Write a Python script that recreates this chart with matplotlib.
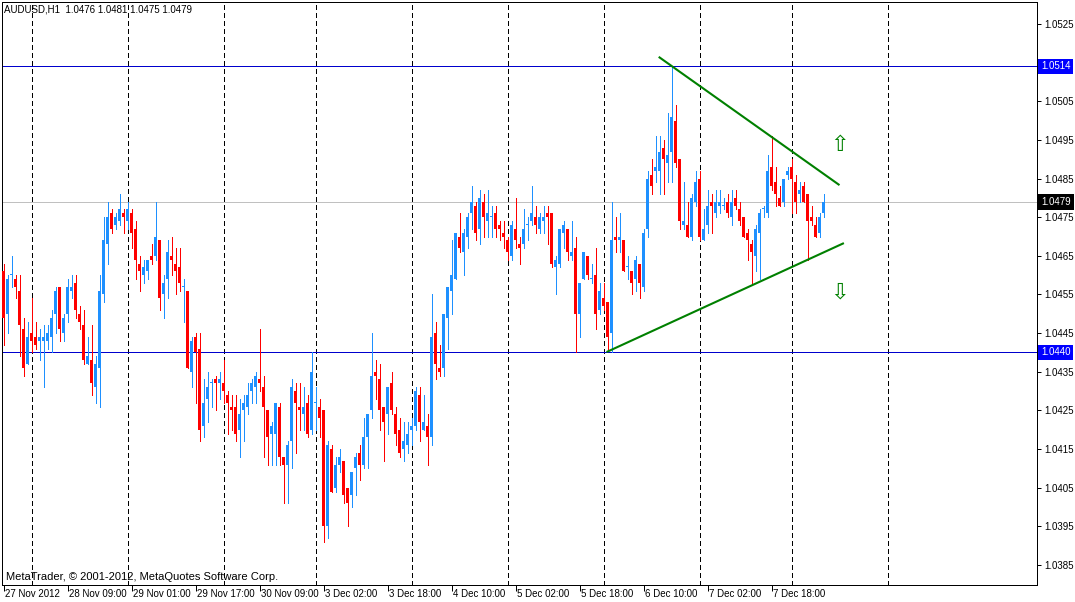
import matplotlib
matplotlib.use('Agg')
import matplotlib.pyplot as plt
import matplotlib.transforms as mtransforms
import numpy as np

plt.rcParams['font.family'] = ['Liberation Sans', 'DejaVu Sans']

# AUDUSD H1 bars, 27 Nov 2012 17:00 onwards
opens = [1.0461, 1.0450, 1.0460, 1.0459, 1.0456, 1.0446, 1.0437, 1.0445, 1.0444, 1.0443,
         1.0443, 1.0443, 1.0444, 1.0450, 1.0457, 1.0445, 1.0450, 1.0456, 1.0458, 1.0450,
         1.0447, 1.0437, 1.0438, 1.0431, 1.0436, 1.0455, 1.0468, 1.0476, 1.0473, 1.0474,
         1.0476, 1.0474, 1.0476, 1.0472, 1.0463, 1.0460, 1.0461, 1.0465, 1.0465, 1.0469,
         1.0455, 1.0459, 1.0465, 1.0463, 1.0462, 1.0457, 1.0456, 1.0435, 1.0444, 1.0441,
         1.0421, 1.0428, 1.0432, 1.0433, 1.0432, 1.0432, 1.0429, 1.0426, 1.0426, 1.0420,
         1.0425, 1.0426, 1.0430, 1.0431, 1.0433, 1.0431, 1.0425, 1.0419, 1.0419, 1.0426,
         1.0413, 1.0411, 1.0417, 1.0430, 1.0426, 1.0424, 1.0427, 1.0420, 1.0427, 1.0426,
         1.0425, 1.0395, 1.0415, 1.0405, 1.0411, 1.0412, 1.0405, 1.0403, 1.0410, 1.0414,
         1.0411, 1.0418, 1.0425, 1.0435, 1.0433, 1.0426, 1.0424, 1.0432, 1.0424, 1.0420,
         1.0415, 1.0416, 1.0420, 1.0421, 1.0429, 1.0420, 1.0421, 1.0418, 1.0445, 1.0436,
         1.0436, 1.0449, 1.0456, 1.0459, 1.0470, 1.0466, 1.0470, 1.0476, 1.0478, 1.0472,
         1.0479, 1.0474, 1.0475, 1.0476, 1.0473, 1.0471, 1.0469, 1.0465, 1.0472, 1.0468,
         1.0468, 1.0473, 1.0474, 1.0475, 1.0472, 1.0474, 1.0476, 1.0476, 1.0462, 1.0463,
         1.0471, 1.0472, 1.0465, 1.0467, 1.0450, 1.0459, 1.0465, 1.0459, 1.0460, 1.0451,
         1.0454, 1.0453, 1.0445, 1.0470, 1.0469, 1.0469, 1.0462, 1.0461, 1.0459, 1.0463,
         1.0457, 1.0472, 1.0486, 1.0487, 1.0487, 1.0493, 1.0489, 1.0492, 1.0500, 1.0490,
         1.0473, 1.0473, 1.0470, 1.0479, 1.0485, 1.0469, 1.0473, 1.0479, 1.0476, 1.0478,
         1.0478, 1.0479, 1.0475, 1.0480, 1.0477, 1.0475, 1.0471, 1.0468, 1.0465, 1.0471,
         1.0477, 1.0476, 1.0488, 1.0484, 1.0480, 1.0479, 1.0486, 1.0488, 1.0484, 1.0481,
         1.0483, 1.0481, 1.0475, 1.0473, 1.0471, 1.0476]
highs = [1.0463, 1.0460, 1.0465, 1.0460, 1.0460, 1.0449, 1.0448, 1.0454, 1.0448, 1.0446,
         1.0447, 1.0447, 1.0451, 1.0457, 1.0457, 1.0450, 1.0459, 1.0460, 1.0460, 1.0452,
         1.0451, 1.0444, 1.0447, 1.0439, 1.0460, 1.0475, 1.0479, 1.0477, 1.0476, 1.0481,
         1.0477, 1.0479, 1.0477, 1.0474, 1.0465, 1.0464, 1.0464, 1.0468, 1.0479, 1.0469,
         1.0460, 1.0469, 1.0470, 1.0467, 1.0467, 1.0459, 1.0456, 1.0444, 1.0445, 1.0445,
         1.0433, 1.0435, 1.0433, 1.0434, 1.0435, 1.0438, 1.0430, 1.0429, 1.0429, 1.0428,
         1.0429, 1.0432, 1.0433, 1.0435, 1.0446, 1.0434, 1.0425, 1.0422, 1.0427, 1.0427,
         1.0413, 1.0417, 1.0433, 1.0432, 1.0432, 1.0431, 1.0429, 1.0440, 1.0431, 1.0428,
         1.0425, 1.0417, 1.0416, 1.0413, 1.0415, 1.0412, 1.0405, 1.0409, 1.0414, 1.0416,
         1.0423, 1.0424, 1.0445, 1.0438, 1.0437, 1.0426, 1.0431, 1.0435, 1.0426, 1.0423,
         1.0422, 1.0422, 1.0423, 1.0431, 1.0431, 1.0429, 1.0424, 1.0455, 1.0448, 1.0442,
         1.0450, 1.0457, 1.0469, 1.0471, 1.0476, 1.0472, 1.0476, 1.0483, 1.0479, 1.0482,
         1.0481, 1.0482, 1.0478, 1.0478, 1.0474, 1.0474, 1.0470, 1.0474, 1.0480, 1.0470,
         1.0477, 1.0475, 1.0483, 1.0478, 1.0476, 1.0478, 1.0478, 1.0476, 1.0465, 1.0472,
         1.0474, 1.0472, 1.0474, 1.0470, 1.0458, 1.0466, 1.0465, 1.0463, 1.0467, 1.0458,
         1.0458, 1.0453, 1.0479, 1.0475, 1.0476, 1.0469, 1.0465, 1.0461, 1.0465, 1.0463,
         1.0472, 1.0487, 1.0490, 1.0496, 1.0496, 1.0495, 1.0502, 1.0514, 1.0504, 1.0490,
         1.0484, 1.0479, 1.0481, 1.0487, 1.0487, 1.0477, 1.0482, 1.0481, 1.0482, 1.0482,
         1.0480, 1.0481, 1.0482, 1.0482, 1.0479, 1.0475, 1.0472, 1.0469, 1.0473, 1.0477,
         1.0478, 1.0491, 1.0496, 1.0488, 1.0483, 1.0485, 1.0488, 1.0490, 1.0486, 1.0484,
         1.0484, 1.0481, 1.0478, 1.0475, 1.0476, 1.0481]
lows = [1.0442, 1.0445, 1.0457, 1.0454, 1.0439, 1.0434, 1.0437, 1.0440, 1.0441, 1.0438,
        1.0431, 1.0441, 1.0440, 1.0445, 1.0443, 1.0443, 1.0448, 1.0454, 1.0449, 1.0446,
        1.0437, 1.0437, 1.0429, 1.0427, 1.0426, 1.0453, 1.0463, 1.0471, 1.0472, 1.0473,
        1.0471, 1.0472, 1.0467, 1.0459, 1.0456, 1.0458, 1.0459, 1.0463, 1.0464, 1.0451,
        1.0449, 1.0454, 1.0460, 1.0455, 1.0456, 1.0448, 1.0436, 1.0431, 1.0427, 1.0417,
        1.0418, 1.0422, 1.0426, 1.0425, 1.0428, 1.0427, 1.0419, 1.0420, 1.0417, 1.0413,
        1.0417, 1.0424, 1.0427, 1.0427, 1.0430, 1.0413, 1.0411, 1.0411, 1.0411, 1.0411,
        1.0401, 1.0401, 1.0410, 1.0414, 1.0420, 1.0420, 1.0418, 1.0419, 1.0420, 1.0418,
        1.0391, 1.0392, 1.0404, 1.0404, 1.0409, 1.0401, 1.0395, 1.0400, 1.0403, 1.0407,
        1.0410, 1.0410, 1.0423, 1.0428, 1.0420, 1.0412, 1.0419, 1.0424, 1.0416, 1.0413,
        1.0412, 1.0414, 1.0416, 1.0420, 1.0417, 1.0420, 1.0411, 1.0416, 1.0433, 1.0434,
        1.0434, 1.0441, 1.0450, 1.0459, 1.0466, 1.0460, 1.0467, 1.0472, 1.0469, 1.0468,
        1.0470, 1.0470, 1.0470, 1.0470, 1.0469, 1.0467, 1.0464, 1.0464, 1.0467, 1.0463,
        1.0467, 1.0469, 1.0473, 1.0471, 1.0471, 1.0471, 1.0468, 1.0462, 1.0455, 1.0462,
        1.0467, 1.0464, 1.0464, 1.0440, 1.0444, 1.0459, 1.0459, 1.0458, 1.0446, 1.0450,
        1.0451, 1.0441, 1.0440, 1.0466, 1.0466, 1.0461, 1.0459, 1.0455, 1.0456, 1.0454,
        1.0456, 1.0470, 1.0481, 1.0484, 1.0481, 1.0481, 1.0484, 1.0484, 1.0488, 1.0472,
        1.0472, 1.0470, 1.0469, 1.0478, 1.0469, 1.0469, 1.0471, 1.0471, 1.0475, 1.0476,
        1.0477, 1.0475, 1.0473, 1.0477, 1.0473, 1.0470, 1.0464, 1.0458, 1.0461, 1.0459,
        1.0475, 1.0475, 1.0482, 1.0478, 1.0478, 1.0478, 1.0485, 1.0476, 1.0476, 1.0479,
        1.0479, 1.0464, 1.0473, 1.0470, 1.0470, 1.0475]
closes = [1.0449, 1.0459, 1.0460, 1.0457, 1.0447, 1.0436, 1.0444, 1.0443, 1.0442, 1.0444,
          1.0444, 1.0445, 1.0449, 1.0456, 1.0446, 1.0449, 1.0457, 1.0457, 1.0451, 1.0448,
          1.0438, 1.0439, 1.0432, 1.0437, 1.0456, 1.0469, 1.0475, 1.0472, 1.0475, 1.0477,
          1.0475, 1.0477, 1.0471, 1.0464, 1.0461, 1.0462, 1.0464, 1.0464, 1.0470, 1.0454,
          1.0458, 1.0466, 1.0464, 1.0461, 1.0458, 1.0457, 1.0436, 1.0443, 1.0440, 1.0420,
          1.0427, 1.0431, 1.0432, 1.0432, 1.0433, 1.0430, 1.0427, 1.0425, 1.0419, 1.0424,
          1.0427, 1.0429, 1.0432, 1.0434, 1.0432, 1.0426, 1.0418, 1.0421, 1.0427, 1.0413,
          1.0411, 1.0416, 1.0431, 1.0427, 1.0425, 1.0426, 1.0419, 1.0435, 1.0427, 1.0423,
          1.0395, 1.0416, 1.0404, 1.0411, 1.0413, 1.0403, 1.0401, 1.0409, 1.0413, 1.0411,
          1.0418, 1.0424, 1.0434, 1.0434, 1.0425, 1.0422, 1.0431, 1.0425, 1.0419, 1.0414,
          1.0417, 1.0419, 1.0421, 1.0430, 1.0422, 1.0422, 1.0418, 1.0444, 1.0437, 1.0435,
          1.0450, 1.0457, 1.0460, 1.0471, 1.0467, 1.0471, 1.0475, 1.0479, 1.0471, 1.0480,
          1.0475, 1.0476, 1.0475, 1.0472, 1.0472, 1.0470, 1.0466, 1.0473, 1.0469, 1.0467,
          1.0472, 1.0473, 1.0476, 1.0473, 1.0475, 1.0475, 1.0475, 1.0463, 1.0464, 1.0472,
          1.0473, 1.0466, 1.0466, 1.0450, 1.0458, 1.0466, 1.0460, 1.0459, 1.0450, 1.0456,
          1.0452, 1.0444, 1.0469, 1.0469, 1.0470, 1.0461, 1.0462, 1.0458, 1.0464, 1.0458,
          1.0471, 1.0485, 1.0483, 1.0488, 1.0492, 1.0490, 1.0491, 1.0501, 1.0489, 1.0474,
          1.0474, 1.0470, 1.0480, 1.0484, 1.0470, 1.0472, 1.0478, 1.0478, 1.0479, 1.0479,
          1.0478, 1.0476, 1.0479, 1.0478, 1.0474, 1.0470, 1.0469, 1.0466, 1.0472, 1.0476,
          1.0477, 1.0487, 1.0483, 1.0481, 1.0478, 1.0485, 1.0487, 1.0485, 1.0479, 1.0482,
          1.0479, 1.0474, 1.0474, 1.0470, 1.0475, 1.0479]

# day separators (bar index) and time axis labels
separator_bars = [7, 31, 55, 78, 102, 126, 150, 174, 197, 221]
label_bars = [0, 16, 32, 48, 64, 80, 96, 112, 128, 144, 160, 176, 192]
label_texts = ['27 Nov 2012', '28 Nov 09:00', '29 Nov 01:00', '29 Nov 17:00',
               '30 Nov 09:00', '3 Dec 02:00', '3 Dec 18:00', '4 Dec 10:00',
               '5 Dec 02:00', '5 Dec 18:00', '6 Dec 10:00', '7 Dec 02:00',
               '7 Dec 18:00']

price_ticks = np.round(np.arange(1.0385, 1.05251, 0.0010), 4)
hidden_tick = 1.0515  # covered by the 1.0514 price box
hlines = [1.0514, 1.0440]
bid = 1.0479

# trend lines (bar, price) and arrow marks
upper_line = [(163.8, 1.05165), (209.0, 1.04833)]
lower_line = [(150.75, 1.04401), (210.1, 1.04683)]
arrow_up = (209, 1.04937)
arrow_down = (209, 1.04554)

BULL = '#1E90FF'
BEAR = '#FF0000'
GREEN = '#008000'
PX = 0.72  # one pixel in points

fig = plt.figure(figsize=(10.75, 6.02), dpi=100)
ax = fig.add_axes([2 / 1075, 17 / 602, 1035 / 1075, 583 / 602])

o = np.array(opens)
h = np.array(highs)
l = np.array(lows)
c = np.array(closes)
x = np.arange(len(o))
cols = np.where(c >= o, BULL, BEAR)

ax.vlines(x, l, h, colors=cols, lw=PX, antialiased=False, zorder=3)
body_h = np.maximum(np.abs(c - o), 0.000026)
ax.bar(x, body_h, bottom=np.minimum(o, c), width=0.75, color=cols,
       lw=0, antialiased=False, zorder=3)

for b in separator_bars:
    ax.axvline(b, color='black', lw=PX, ls=(0, (5, 3)), antialiased=False, zorder=2)

for p in hlines:
    ax.axhline(p, color='#0000CD', lw=PX, antialiased=False, zorder=2)
ax.axhline(bid, color='#C0C0C0', lw=PX, antialiased=False, zorder=1)

for line in (upper_line, lower_line):
    xs, ys = zip(*line)
    ax.plot(xs, ys, color=GREEN, lw=1.5, solid_capstyle='butt', zorder=4)

ax.text(arrow_up[0], arrow_up[1], '\u21e7', color=GREEN, fontsize=16,
        ha='center', va='center', family='DejaVu Sans', zorder=5)
ax.text(arrow_down[0], arrow_down[1], '\u21e9', color=GREEN, fontsize=16,
        ha='center', va='center', family='DejaVu Sans', zorder=5)

ax.set_xlim(-0.375, 258.375)
ax.set_ylim(1.037982, 1.053069)

for s in ax.spines.values():
    s.set_linewidth(PX)
    s.set_color('black')

ax.yaxis.tick_right()
ax.set_yticks(price_ticks)
ax.set_yticklabels(['' if abs(t - hidden_tick) < 1e-6 else '%.4f' % t
                    for t in price_ticks])
ax.tick_params(axis='y', direction='out', length=3, width=PX, labelsize=7, pad=2)

ax.set_xticks(label_bars)
ax.set_xticklabels([])
ax.tick_params(axis='x', direction='out', length=4, width=PX)

lab_tr = mtransforms.offset_copy(
    mtransforms.blended_transform_factory(ax.transData, ax.transAxes),
    fig=fig, x=1.5, y=-9, units='dots')
for b, t in zip(label_bars, label_texts):
    ax.text(b, 0, t, transform=lab_tr, fontsize=7, ha='left', va='center',
            clip_on=False)

# price boxes on the right scale
box_tr = mtransforms.blended_transform_factory(ax.transAxes, ax.transData)
for p, bg in [(1.0514, '#0000FF'), (bid, 'black'), (1.0440, '#0000FF')]:
    ax.text(1 + 4 / 1035, p, '%.4f' % p, transform=box_tr, fontsize=7,
            color='white', ha='left', va='center', clip_on=False, zorder=10,
            bbox=dict(boxstyle='square,pad=0.3', fc=bg, ec='none'))

fig.text(4 / 1075, 1 - 10 / 602, 'AUDUSD,H1  1.0476 1.0481 1.0475 1.0479',
         fontsize=7, ha='left', va='center')
fig.text(6 / 1075, 1 - 577 / 602,
         'MetaTrader, \u00a9 2001-2012, MetaQuotes Software Corp.',
         fontsize=8, ha='left', va='center')

fig.savefig('out.png', dpi=100, facecolor='white')
